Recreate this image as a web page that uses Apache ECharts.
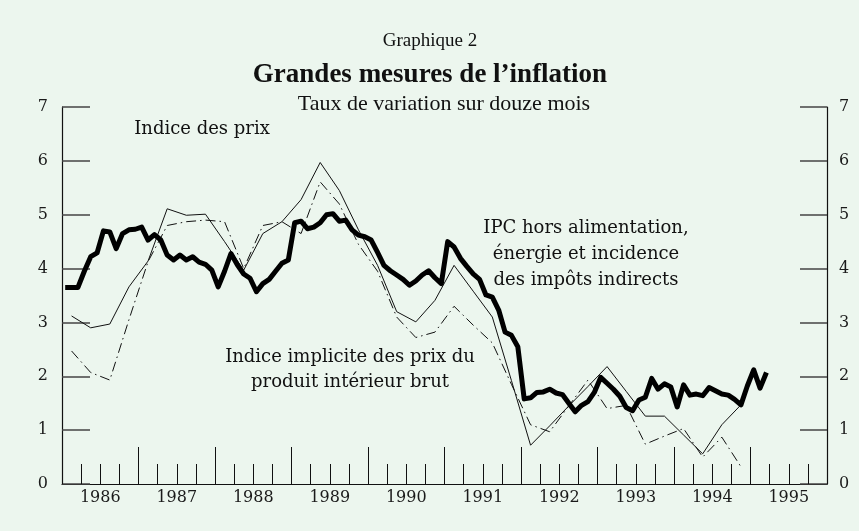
<!DOCTYPE html>
<html>
<head>
<meta charset="utf-8">
<script src="https://cdn.jsdelivr.net/npm/echarts@6/dist/echarts.min.js"></script>
<style>
  html, body { margin: 0; padding: 0; background: #ecf6ee; }
  #chart { width: 859px; height: 531px; }
</style>
</head>
<body>
<div id="chart"></div>
<script>
// tick labels
const years = ['1986', '1987', '1988', '1989', '1990', '1991', '1992', '1993', '1994', '1995'];

// IPC hors alimentation, énergie et incidence des impôts indirects (mensuel, à partir de janv. 1986)
const ipcCore = [
  3.65, 3.65, 3.65, 3.95, 4.22, 4.29, 4.70, 4.68, 4.37, 4.65, 4.72, 4.73,
  4.77, 4.53, 4.63, 4.53, 4.25, 4.16, 4.25, 4.16, 4.22, 4.12, 4.08, 3.97,
  3.66, 3.95, 4.28, 4.07, 3.90, 3.82, 3.57, 3.72, 3.80, 3.95, 4.10, 4.16,
  4.85, 4.88, 4.74, 4.77, 4.85, 5.00, 5.02, 4.88, 4.90, 4.72, 4.62, 4.59,
  4.53, 4.30, 4.06, 3.96, 3.88, 3.80, 3.69, 3.77, 3.88, 3.96, 3.83, 3.72,
  4.50, 4.40, 4.19, 4.04, 3.90, 3.80, 3.51, 3.47, 3.23, 2.82, 2.76, 2.55,
  1.58, 1.60, 1.70, 1.71, 1.76, 1.69, 1.66, 1.50, 1.34, 1.46, 1.53, 1.70,
  1.98, 1.87, 1.76, 1.63, 1.42, 1.36, 1.56, 1.61, 1.96, 1.76, 1.86, 1.80,
  1.43, 1.84, 1.65, 1.67, 1.64, 1.79, 1.73, 1.67, 1.65, 1.57, 1.47, 1.82,
  2.12, 1.78, 2.07
];

// Indice des prix (trimestriel, à partir du 1er trim. 1986)
const indicePrix = [
  3.12, 2.90, 2.97, 3.66, 4.14, 5.11, 4.99, 5.01, 4.50, 3.97, 4.65, 4.87,
  5.28, 5.97, 5.45, 4.72, 4.06, 3.20, 3.01, 3.41, 4.06, 3.58, 3.10, 1.92,
  0.72, 1.08, 1.45, 1.81, 2.18, 1.72, 1.26, 1.26, 0.91, 0.56, 1.10, 1.47
];

// Indice implicite des prix du PIB (trimestriel)
const deflateurPib = [
  2.47, 2.07, 1.93, 3.05, 4.13, 4.80, 4.87, 4.90, 4.87, 4.00, 4.80, 4.87,
  4.65, 5.61, 5.20, 4.45, 3.95, 3.10, 2.72, 2.82, 3.30, 2.95, 2.62, 1.85,
  1.10, 0.97, 1.45, 1.93, 1.40, 1.46, 0.74, 0.89, 1.03, 0.50, 0.87, 0.32
];

const monthly = arr => arr.map((v, i) => [1986 + (i + 0.5) / 12, v]);
const quarterly = arr => arr.map((v, i) => [1986 + (i * 3 + 1.5) / 12, v]);

const serif = 'DejaVu Serif';
const titleFont = 'Liberation Serif';

const chart = echarts.init(document.getElementById('chart'));

chart.setOption({
  backgroundColor: '#ecf6ee',
  animation: false,
  grid: { left: 62, right: 32, top: 107, bottom: 47 },
  xAxis: [
    {
      type: 'value',
      min: 1986,
      max: 1996,
      interval: 1,
      position: 'bottom',
      axisLine: { show: true, onZero: false, lineStyle: { color: '#111', width: 1.2 } },
      axisTick: { show: true, inside: true, length: 37, lineStyle: { color: '#111', width: 1 } },
      minorTick: { show: true, splitNumber: 4, length: 20, lineStyle: { color: '#111', width: 1 } },
      axisLabel: { show: false },
      splitLine: { show: false }
    },
    {
      type: 'category',
      data: years,
      position: 'bottom',
      boundaryGap: true,
      axisLine: { show: false },
      axisTick: { show: false },
      axisLabel: { interval: 0, margin: 6, fontFamily: serif, fontSize: 16, color: '#1a1a1a' }
    }
  ],
  yAxis: [
    {
      type: 'value',
      min: 0,
      max: 7,
      interval: 1,
      position: 'left',
      axisLine: { show: true, lineStyle: { color: '#111', width: 1.2 } },
      axisTick: { show: true, inside: true, length: 28, lineStyle: { color: '#444', width: 1.5 } },
      axisLabel: { margin: 14, fontFamily: serif, fontSize: 16, color: '#1a1a1a' },
      splitLine: { show: false }
    },
    {
      type: 'value',
      min: 0,
      max: 7,
      interval: 1,
      position: 'right',
      axisLine: { show: true, lineStyle: { color: '#111', width: 1.2 } },
      axisTick: { show: true, inside: true, length: 27, lineStyle: { color: '#444', width: 1.5 } },
      axisLabel: { margin: 12, fontFamily: serif, fontSize: 16, color: '#1a1a1a' },
      splitLine: { show: false }
    }
  ],
  series: [
    {
      name: 'Indice des prix',
      type: 'line',
      xAxisIndex: 0,
      yAxisIndex: 0,
      data: quarterly(indicePrix),
      symbol: 'none',
      lineStyle: { color: '#111', width: 1 }
    },
    {
      name: 'Indice implicite des prix du produit intérieur brut',
      type: 'line',
      xAxisIndex: 0,
      yAxisIndex: 0,
      data: quarterly(deflateurPib),
      symbol: 'none',
      lineStyle: { color: '#111', width: 1, type: [10, 4, 1.5, 4] }
    },
    {
      name: 'IPC hors alimentation, énergie et incidence des impôts indirects',
      type: 'line',
      xAxisIndex: 0,
      yAxisIndex: 0,
      data: monthly(ipcCore),
      symbol: 'none',
      z: 5,
      lineStyle: { color: '#000', width: 5, join: 'round' }
    }
  ],
  graphic: [
    { type: 'text', style: { text: 'Graphique 2', x: 430, y: 41, align: 'center', verticalAlign: 'middle', font: '19px "' + titleFont + '"', fill: '#111' } },
    { type: 'text', style: { text: 'Grandes mesures de l’inflation', x: 430, y: 75, align: 'center', verticalAlign: 'middle', font: 'bold 27px "' + titleFont + '"', fill: '#111' } },
    { type: 'text', style: { text: 'Taux de variation sur douze mois', x: 444, y: 104, align: 'center', verticalAlign: 'middle', font: '22px "' + titleFont + '"', fill: '#111' } },
    { type: 'text', style: { text: 'Indice des prix', x: 202, y: 129, align: 'center', verticalAlign: 'middle', font: '18px "' + serif + '"', fill: '#111' } },
    { type: 'text', style: { text: 'IPC hors alimentation,\nénergie et incidence\ndes impôts indirects', x: 586, y: 254, align: 'center', verticalAlign: 'middle', lineHeight: 26, font: '18px "' + serif + '"', fill: '#111' } },
    { type: 'text', style: { text: 'Indice implicite des prix du\nproduit intérieur brut', x: 350, y: 370, align: 'center', verticalAlign: 'middle', lineHeight: 25, font: '18px "' + serif + '"', fill: '#111' } }
  ]
});
</script>
</body>
</html>
